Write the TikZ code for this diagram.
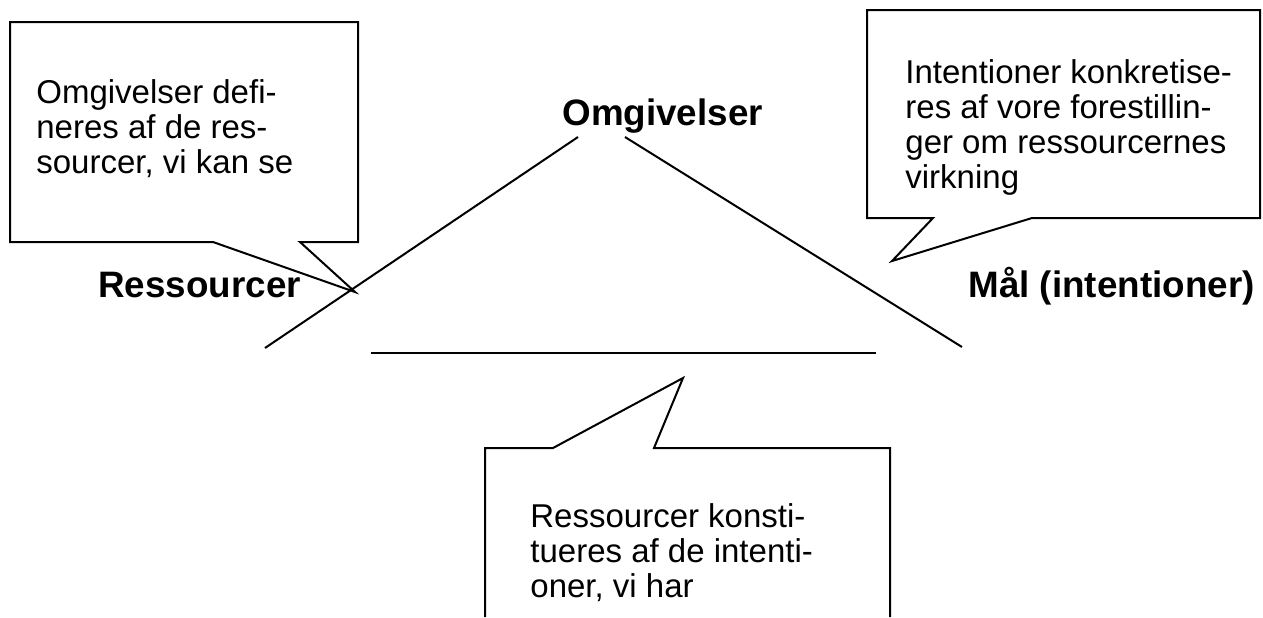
\documentclass[tikz,border=0pt]{standalone}
\usepackage{fontspec}
\setmainfont{Liberation Sans}

\begin{document}
\begin{tikzpicture}[x=0.5pt, y=-0.5pt,
      bubble/.style={draw, line width=1pt},
      side/.style={line width=1pt},
      note/.style={anchor=north west, inner sep=0pt, align=left,
        font=\fontsize{16.5}{17.5}\selectfont},
      vertex/.style={anchor=base west, inner sep=0pt,
        font=\fontsize{18.4}{20}\selectfont\bfseries}]
      \useasboundingbox (0,0) rectangle (1263,617);
      % speech bubbles
      \draw[bubble] (10,22) -- (358,22) -- (358,242) -- (300,242) -- (355,292)
        -- (213,242) -- (10,242) -- cycle;
      \draw[bubble] (867,10) -- (1260,10) -- (1260,218) -- (1032,218) -- (892,261)
        -- (933,218) -- (867,218) -- cycle;
      \draw[bubble] (485,617) -- (485,448) -- (553,448) -- (683,378) -- (654,448)
        -- (890,448) -- (890,617);
      \node[note] (omgnote) at (36,79) {Omgivelser defi-\\neres af de res-\\sourcer, vi kan se};
      \node[note] (intnote) at (905,59) {Intentioner konkretise-\\res af vore forestillin-\\ger om ressourcernes\\virkning};
      \node[note] (resnote) at (530,503) {Ressourcer konsti-\\tueres af de intenti-\\oner, vi har};
      % corners of the triangle
      \node[vertex] (omg) at (562,125) {Omgivelser};
      \node[vertex] (res) at (98,297) {Ressourcer};
      \node[vertex] (maal) at (968,297) {Mål (intentioner)};
      \coordinate (resend) at (265,348);
      \coordinate (omgleft) at (578,137);
      \coordinate (omgright) at (625,137);
      \coordinate (maalend) at (962,347);
      \coordinate (baseleft) at (371,353);
      \coordinate (baseright) at (876,353);
      \draw[side] (resend) -- (omgleft);
      \draw[side] (omgright) -- (maalend);
      \draw[side] (baseleft) -- (baseright);
      % \draw[side] (res) -- (omg) -- (maal);
    \end{tikzpicture}
\end{document}
